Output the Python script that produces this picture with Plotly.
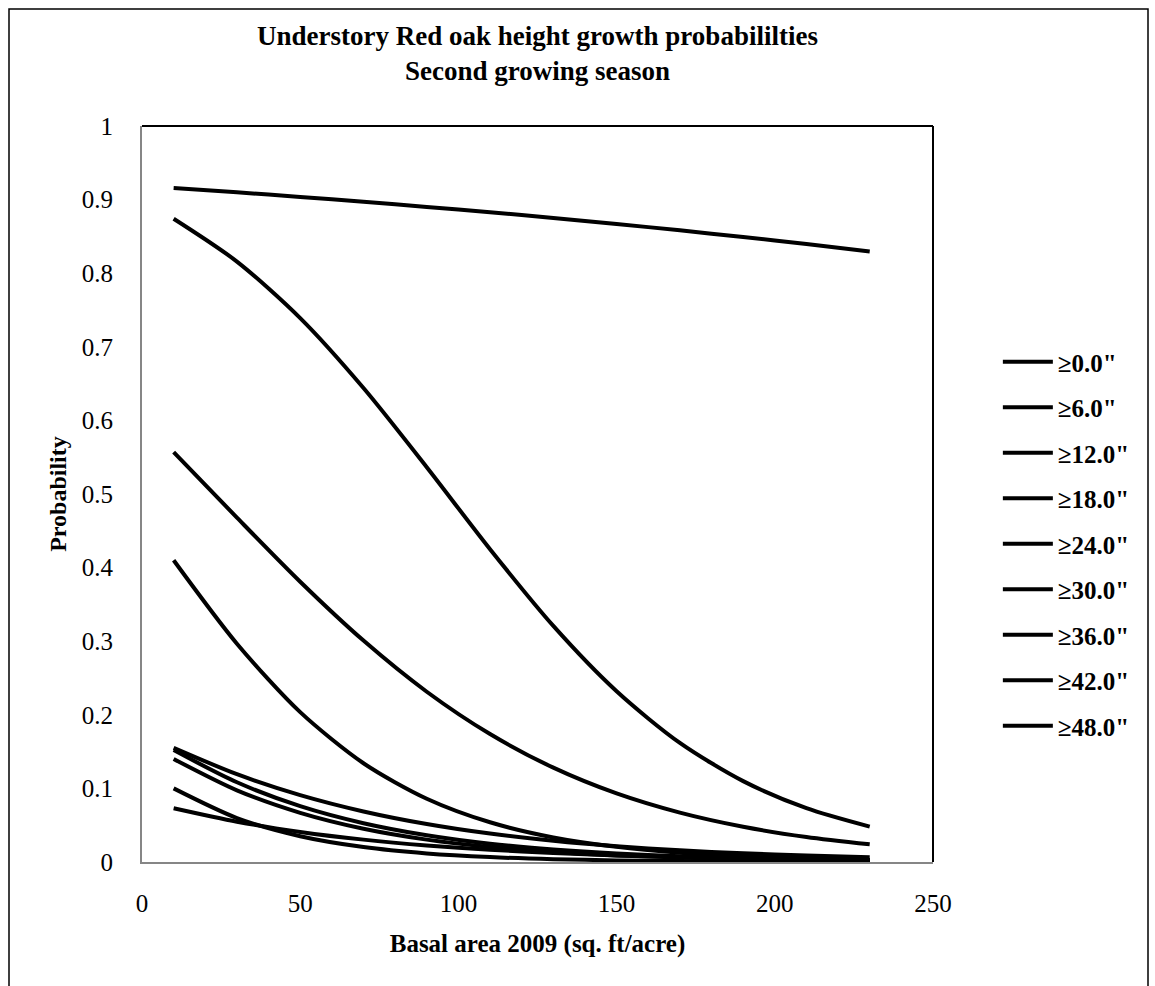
import plotly.graph_objects as go

basal_area = [10, 30, 50, 70, 90, 110, 130, 150, 170, 190, 210, 230]

p_00 = [0.9156, 0.9100, 0.9036, 0.8970, 0.8900, 0.8829, 0.8751, 0.8669, 0.8582, 0.8492, 0.8397, 0.8296]
p_06 = [0.8740, 0.8158, 0.7390, 0.6440, 0.5364, 0.4250, 0.3208, 0.2320, 0.1618, 0.1099, 0.0731, 0.0480]
p_12 = [0.5570, 0.4679, 0.3808, 0.3008, 0.2313, 0.1738, 0.1282, 0.0932, 0.0671, 0.0479, 0.0340, 0.0240]
p_18 = [0.4100, 0.2966, 0.2036, 0.1342, 0.0860, 0.0540, 0.0334, 0.0206, 0.0126, 0.0077, 0.0047, 0.0028]
p_24 = [0.1551, 0.1193, 0.0909, 0.0687, 0.0516, 0.0386, 0.0288, 0.0214, 0.0159, 0.0118, 0.0087, 0.0064]
p_30 = [0.1521, 0.1083, 0.0759, 0.0527, 0.0363, 0.0248, 0.0170, 0.0115, 0.0078, 0.0053, 0.0036, 0.0024]
p_36 = [0.1400, 0.0974, 0.0668, 0.0452, 0.0304, 0.0203, 0.0135, 0.0090, 0.0060, 0.0040, 0.0026, 0.0018]
p_42 = [0.1000, 0.0597, 0.0350, 0.0203, 0.0117, 0.0067, 0.0038, 0.0022, 0.0013, 0.0007, 0.0004, 0.0002]
p_48 = [0.0731, 0.0548, 0.0409, 0.0304, 0.0225, 0.0166, 0.0123, 0.0090, 0.0067, 0.0049, 0.0036, 0.0027]

series_names = ['≥0.0"', '≥6.0"', '≥12.0"', '≥18.0"', '≥24.0"', '≥30.0"', '≥36.0"', '≥42.0"', '≥48.0"']
series_values = [p_00, p_06, p_12, p_18, p_24, p_30, p_36, p_42, p_48]

x_ticks = [0, 50, 100, 150, 200, 250]
y_ticks = [0, 0.1, 0.2, 0.3, 0.4, 0.5, 0.6, 0.7, 0.8, 0.9, 1]
y_tick_labels = ["0", "0.1", "0.2", "0.3", "0.4", "0.5", "0.6", "0.7", "0.8", "0.9", "1"]

FONT = "Liberation Serif"

fig = go.Figure()
for i, (name, vals) in enumerate(zip(series_names, series_values)):
    fig.add_trace(go.Scatter(
        x=basal_area, y=vals, name=name, mode="lines",
        line=dict(color="black", width=4, shape="spline", smoothing=0.8),
        legendgroup=f"g{i}",
    ))

fig.update_layout(
    width=1155, height=986,
    margin=dict(l=142, r=222, t=126, b=124),
    paper_bgcolor="white", plot_bgcolor="white",
    font=dict(family=FONT, color="black"),
    title=dict(
        text="<b>Understory Red oak height growth probabililties<br>Second growing season</b>",
        x=0.5, xref="paper", xanchor="center",
        y=1 - 45 / 986, yref="container", yanchor="middle",
        font=dict(family=FONT, size=27, color="black"),
    ),
    showlegend=True,
    legend=dict(
        x=1.082, xanchor="left", y=(862 - 339) / 736, yanchor="top",
        font=dict(family=FONT, size=25, color="black", weight="bold"),
        traceorder="grouped", tracegroupgap=10, itemwidth=50,
        bgcolor="rgba(0,0,0,0)", borderwidth=0,
    ),
    xaxis=dict(
        range=[0, 250], tickvals=x_ticks, showgrid=False, zeroline=False,
        showline=True, linecolor="#868686", linewidth=2, ticks="",
        tickfont=dict(family=FONT, size=25, color="black"),
        ticklabelstandoff=18,
        title=dict(text="<b>Basal area 2009 (sq. ft/acre)</b>",
                   font=dict(family=FONT, size=25, color="black"), standoff=18),
    ),
    yaxis=dict(
        range=[0, 1], tickvals=y_ticks, ticktext=y_tick_labels, showgrid=False, zeroline=False,
        showline=True, linecolor="#868686", linewidth=2, ticks="",
        tickfont=dict(family=FONT, size=25, color="black"),
        ticklabelstandoff=22,
        title=dict(text="<b>Probability</b>",
                   font=dict(family=FONT, size=24, color="black"), standoff=8),
    ),
)

# top and right frame lines (black)
fig.add_shape(type="line", xref="paper", yref="paper", x0=0, x1=1, y0=1, y1=1,
              line=dict(color="black", width=2))
fig.add_shape(type="line", xref="paper", yref="paper", x0=1, x1=1, y0=0, y1=1,
              line=dict(color="black", width=2))
# outer chart border
fig.add_shape(type="rect", xref="paper", yref="paper",
              x0=(9 - 142) / 791, x1=(1148 - 142) / 791,
              y0=(862 - 1010) / 736, y1=(862 - 9) / 736,
              line=dict(color="black", width=1.5), fillcolor="rgba(0,0,0,0)", layer="below")

fig.write_html("out.html")
